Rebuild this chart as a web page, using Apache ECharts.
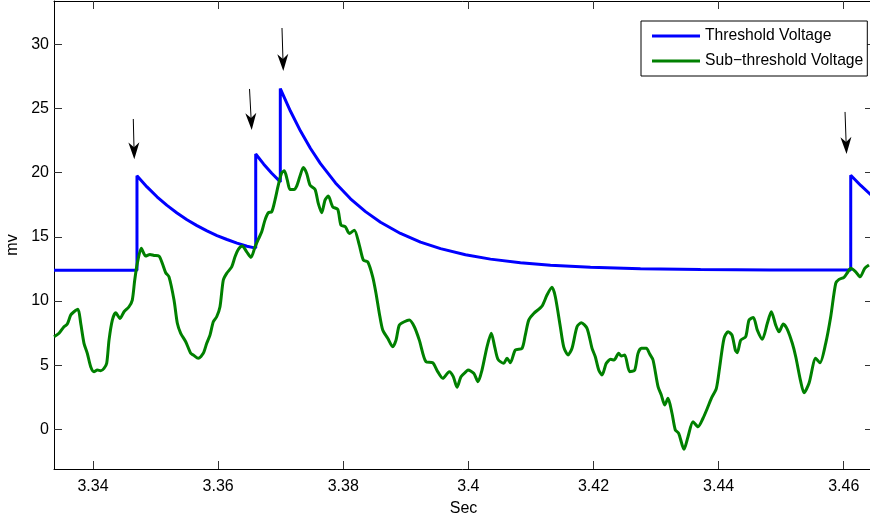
<!DOCTYPE html>
<html>
<head>
<meta charset="utf-8">
<script src="https://cdn.jsdelivr.net/npm/echarts@6/dist/echarts.min.js"></script>
<style>html,body{margin:0;padding:0;background:#fff}#c{width:870px;height:518px}</style>
</head>
<body>
<div id="c"></div>
<script>
const xTicks = [3.34, 3.36, 3.38, 3.40, 3.42, 3.44, 3.46];
const yTicks = [0, 5, 10, 15, 20, 25, 30];
const xRange = [3.333766, 3.46468];
const yRange = [-3.094, 33.375];
const seriesNames = ['Threshold Voltage', 'Sub\u2212threshold Voltage'];

const thresholdTime = [3.33377,3.34703,3.34703,3.34863,3.35023,3.35183,3.35343,3.35502,3.35662,3.35822,3.35982,3.36142,3.36302,3.36462,3.36601,3.36601,3.36729,3.36857,3.36994,3.36994,3.37157,3.37317,3.37477,3.37636,3.37876,3.38116,3.38356,3.38596,3.38915,3.39235,3.39555,3.39954,3.40354,3.40833,3.41313,3.41952,3.42752,3.43711,3.44830,3.46112,3.46112,3.46272,3.46440];
const thresholdMv = [12.4,12.4,19.75,18.89,18.12,17.45,16.86,16.33,15.87,15.46,15.10,14.79,14.51,14.26,14.12,21.45,20.66,19.95,19.28,26.55,24.78,23.24,21.88,20.70,19.20,17.96,16.96,16.13,15.26,14.59,14.08,13.60,13.26,12.98,12.79,12.63,12.52,12.45,12.42,12.42,19.80,19.00,18.25];

const subTime = [3.33377,3.33457,3.33536,3.33589,3.33644,3.33696,3.33760,3.33803,3.33856,3.33909,
3.33963,3.34016,3.34069,3.34123,3.34176,3.34219,3.34256,3.34309,3.34363,3.34432,
3.34496,3.34575,3.34628,3.34667,3.34708,3.34772,3.34842,3.34911,3.34975,3.35055,
3.35108,3.35162,3.35215,3.35295,3.35348,3.35402,3.35482,3.35562,3.35603,3.35683,
3.35763,3.35818,3.35870,3.35923,3.35977,3.36030,3.36083,3.36137,3.36217,3.36270,
3.36323,3.36387,3.36457,3.36526,3.36590,3.36642,3.36697,3.36749,3.36802,3.36857,
3.36909,3.36962,3.37016,3.37058,3.37106,3.37149,3.37213,3.37256,3.37309,3.37362,
3.37416,3.37469,3.37549,3.37601,3.37656,3.37709,3.37761,3.37832,3.37912,3.37964,
3.38033,3.38097,3.38177,3.38257,3.38321,3.38391,3.38471,3.38524,3.38577,3.38631,
3.38711,3.38791,3.38844,3.38896,3.38976,3.39056,3.39136,3.39216,3.39323,3.39430,
3.39510,3.39590,3.39695,3.39759,3.39819,3.39882,3.39962,3.39994,3.40086,3.40154,
3.40218,3.40298,3.40367,3.40421,3.40474,3.40565,3.40618,3.40671,3.40751,3.40858,
3.40910,3.40965,3.41045,3.41177,3.41257,3.41337,3.41390,3.41470,3.41524,3.41593,
3.41657,3.41737,3.41806,3.41897,3.41977,3.42029,3.42084,3.42136,3.42205,3.42275,
3.42328,3.42403,3.42445,3.42499,3.42579,3.42659,3.42712,3.42765,3.42845,3.42899,
3.42952,3.43032,3.43084,3.43139,3.43191,3.43255,3.43308,3.43362,3.43447,3.43511,
3.43591,3.43671,3.43751,3.43820,3.43884,3.43964,3.44018,3.44087,3.44151,3.44214,
3.44267,3.44299,3.44354,3.44433,3.44486,3.44555,3.44619,3.44699,3.44779,3.44843,
3.44913,3.44966,3.45034,3.45098,3.45178,3.45233,3.45313,3.45365,3.45445,3.45552,
3.45621,3.45712,3.45792,3.45872,3.45925,3.46005,3.46058,3.46112,3.46192,3.46261,
3.46336,3.46404];
const subMv = [7.21,7.48,7.99,8.20,8.90,9.16,9.35,8.28,6.70,5.92,
4.88,4.49,4.62,4.56,4.75,5.14,6.95,8.51,9.08,8.64,
9.16,9.55,10.07,11.63,12.93,14.10,13.50,13.63,13.55,13.50,
12.93,12.20,11.88,10.07,8.26,7.48,6.82,5.92,5.79,5.53,
5.92,6.70,7.34,8.38,8.77,9.55,11.63,12.15,12.66,13.44,
14.02,14.28,13.83,13.40,14.22,14.80,15.39,16.30,16.87,16.95,
17.86,19.03,19.98,20.14,19.42,18.69,18.69,18.95,19.73,20.40,
19.94,19.03,18.69,17.60,16.87,17.86,18.17,17.34,17.13,15.91,
15.78,15.26,15.52,14.35,13.19,13.05,11.88,10.59,9.03,7.73,
7.09,6.43,6.95,8.12,8.38,8.51,7.99,6.95,5.26,5.19,
4.49,3.97,4.49,4.10,3.27,4.10,4.49,4.62,4.36,3.71,
4.62,6.43,7.48,6.43,5.45,5.14,5.53,5.19,6.18,6.31,
7.34,8.51,9.03,9.60,10.46,11.06,10.33,7.99,6.43,5.79,
6.31,7.99,8.30,7.87,6.31,5.65,4.62,4.23,5.14,5.45,
5.40,5.92,5.71,5.79,4.49,4.62,5.92,6.31,6.31,5.86,
5.40,3.32,2.67,1.89,2.41,1.25,-0.05,-0.31,-1.56,-0.58,
0.59,0.20,0.86,1.64,2.41,3.19,4.88,7.09,7.60,7.34,
6.18,5.97,6.95,7.21,8.51,8.72,7.73,7.01,8.26,9.16,
8.12,7.60,8.20,7.79,6.70,5.65,3.71,2.85,3.58,5.53,
5.19,6.70,8.77,11.37,11.68,11.84,12.20,12.54,12.27,11.88,
12.54,12.80];

const arrowTailTime = [3.34644, 3.36502, 3.37021, 3.46021];
const arrowTailMv = [24.18, 26.52, 31.27, 24.73];
const arrowTipTime = [3.34660, 3.36537, 3.37042, 3.46045];
const arrowTipMv = [21.04, 23.32, 27.92, 21.45];

const FONT = "'Liberation Sans', Arial, Helvetica, sans-serif";
const zip = (a, b) => a.map((v, i) => [v, b[i]]);
const fmt = v => String(+(+v).toFixed(4));

const chart = echarts.init(document.getElementById('c'), null, {renderer: 'canvas'});

const tickStyle = {show: true, inside: true, length: 8, lineStyle: {color: '#333', width: 1}};
const lineAxis = {show: true, onZero: false, lineStyle: {color: '#000', width: 1}};

chart.setOption({
  animation: false,
  backgroundColor: '#fff',
  textStyle: {fontFamily: FONT},
  grid: {left: 54, right: -3, top: 1, bottom: 49, containLabel: false, outerBoundsMode: 'none'},
  legend: {
    data: seriesNames,
    orient: 'vertical',
    left: 641, top: 21,
    padding: [6, 4, 6, 11],
    icon: 'rect',
    itemWidth: 48, itemHeight: 3, itemGap: 7,
    borderColor: '#000', borderWidth: 1, backgroundColor: '#fff',
    selectedMode: false,
    textStyle: {fontSize: 15.7, color: '#000', fontFamily: FONT, lineHeight: 18}
  },
  xAxis: [{
    type: 'value', min: xRange[0], max: xRange[1],
    name: 'Sec', nameLocation: 'middle', nameGap: 32,
    nameTextStyle: {fontSize: 16, color: '#000', fontFamily: FONT},
    axisLine: lineAxis,
    axisTick: Object.assign({customValues: xTicks}, tickStyle),
    axisLabel: {customValues: xTicks, formatter: fmt, margin: 10, fontSize: 16, color: '#000', fontFamily: FONT},
    splitLine: {show: false}
  }, {
    type: 'value', position: 'top', min: xRange[0], max: xRange[1],
    axisLine: lineAxis,
    axisTick: Object.assign({customValues: xTicks}, tickStyle),
    axisLabel: {show: false},
    splitLine: {show: false}
  }],
  yAxis: [{
    type: 'value', min: yRange[0], max: yRange[1],
    name: 'mv', nameLocation: 'middle', nameGap: 33, nameRotate: 90,
    nameTextStyle: {fontSize: 16, color: '#000', fontFamily: FONT, padding: [0, 20, 0, 0]},
    axisLine: lineAxis,
    axisTick: Object.assign({customValues: yTicks}, tickStyle),
    axisLabel: {customValues: yTicks, formatter: fmt, margin: 5, fontSize: 16, color: '#000', fontFamily: FONT},
    splitLine: {show: false}
  }, {
    type: 'value', position: 'right', min: yRange[0], max: yRange[1],
    axisLine: lineAxis,
    axisTick: Object.assign({customValues: yTicks}, tickStyle),
    axisLabel: {show: false},
    splitLine: {show: false}
  }],
  series: [{
    name: seriesNames[0], type: 'line', xAxisIndex: 0, yAxisIndex: 0,
    data: zip(thresholdTime, thresholdMv),
    symbol: 'none', showSymbol: false,
    lineStyle: {color: '#0000ff', width: 3},
    itemStyle: {color: '#0000ff'},
    clip: true, z: 2
  }, {
    name: seriesNames[1], type: 'line', xAxisIndex: 0, yAxisIndex: 0,
    data: zip(subTime, subMv),
    symbol: 'none', showSymbol: false, smooth: 0.25,
    lineStyle: {color: '#008000', width: 3},
    itemStyle: {color: '#008000'},
    clip: true, z: 3
  }, {
    name: 'arrows', type: 'custom', xAxisIndex: 0, yAxisIndex: 0,
    data: arrowTailTime.map((t, i) => [t, arrowTailMv[i], arrowTipTime[i], arrowTipMv[i]]),
    silent: true, z: 4,
    renderItem: function (params, api) {
      const p0 = api.coord([api.value(0), api.value(1)]);
      const p1 = api.coord([api.value(2), api.value(3)]);
      const dx = p1[0] - p0[0], dy = p1[1] - p0[1];
      const L = Math.sqrt(dx * dx + dy * dy);
      const ux = dx / L, uy = dy / L, nx = -uy, ny = ux;
      const headLen = 17, headHalf = 5.5, notch = 5;
      const base = [p1[0] - ux * headLen, p1[1] - uy * headLen];
      const notchPt = [p1[0] - ux * (headLen - notch), p1[1] - uy * (headLen - notch)];
      return {
        type: 'group',
        children: [{
          type: 'line',
          shape: {x1: p0[0], y1: p0[1], x2: notchPt[0], y2: notchPt[1]},
          style: {stroke: '#000', lineWidth: 1}
        }, {
          type: 'polygon',
          shape: {points: [p1, [base[0] + nx * headHalf, base[1] + ny * headHalf], notchPt, [base[0] - nx * headHalf, base[1] - ny * headHalf]]},
          style: {fill: '#000'}
        }]
      };
    }
  }]
});
</script>
</body>
</html>
